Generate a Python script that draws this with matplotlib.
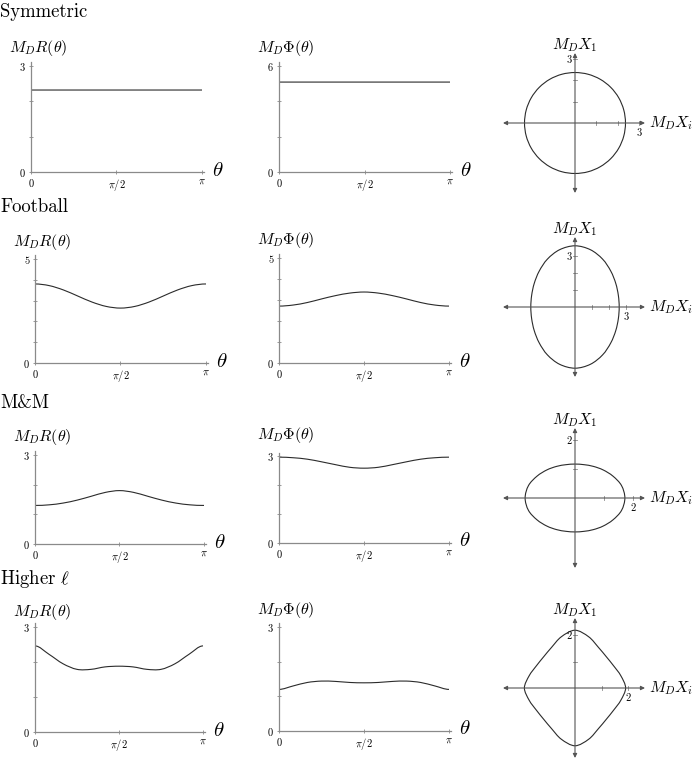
import numpy as np
import matplotlib
matplotlib.use('Agg')
import matplotlib.pyplot as plt
from matplotlib.path import Path
from matplotlib.patches import PathPatch

plt.rcParams['mathtext.fontset'] = 'cm'
plt.rcParams['font.family'] = ['DejaVu Serif']

# sample angles (degrees) for every curve
theta_deg = [0, 15, 30, 45, 60, 75, 90, 105, 120, 135, 150, 165, 180]

# M_D R(theta)
sym_R = [2.32, 2.32, 2.32, 2.32, 2.32, 2.32, 2.32, 2.32, 2.32, 2.32, 2.32, 2.32, 2.32]
football_R = [3.80, 3.72, 3.51, 3.22, 2.93, 2.72, 2.64, 2.72, 2.93, 3.22, 3.51, 3.72, 3.80]
mm_R = [1.30, 1.32, 1.38, 1.48, 1.61, 1.74, 1.80, 1.74, 1.61, 1.48, 1.38, 1.32, 1.30]
higher_R = [2.46, 2.22, 1.95, 1.79, 1.79, 1.86, 1.88, 1.86, 1.79, 1.79, 1.95, 2.22, 2.46]

# M_D Phi(theta)
sym_Phi = [5.09, 5.09, 5.09, 5.09, 5.09, 5.09, 5.09, 5.09, 5.09, 5.09, 5.09, 5.09, 5.09]
football_Phi = [2.71, 2.76, 2.88, 3.05, 3.21, 3.33, 3.38, 3.33, 3.21, 3.05, 2.88, 2.76, 2.71]
mm_Phi = [2.96, 2.94, 2.89, 2.80, 2.70, 2.61, 2.58, 2.61, 2.70, 2.80, 2.89, 2.94, 2.96]
higher_Phi = [1.20, 1.30, 1.40, 1.44, 1.43, 1.40, 1.39, 1.40, 1.43, 1.44, 1.40, 1.30, 1.20]

# cross-section radius in the (X_i, X_1) plane
sym_shape = [2.37, 2.37, 2.37, 2.37, 2.37, 2.37, 2.37, 2.37, 2.37, 2.37, 2.37, 2.37, 2.37]
football_shape = [3.60, 3.49, 3.25, 2.98, 2.77, 2.64, 2.60, 2.64, 2.77, 2.98, 3.25, 3.49, 3.60]
mm_shape = [1.17, 1.19, 1.26, 1.37, 1.51, 1.66, 1.72, 1.66, 1.51, 1.37, 1.26, 1.19, 1.17]
higher_shape = [2.18, 2.00, 1.77, 1.67, 1.68, 1.79, 1.91, 1.79, 1.68, 1.67, 1.77, 2.00, 2.18]

titles = ['Symmetric', 'Football', 'M&M', r'Higher $\ell$']
R_max = [3, 5, 3, 3]
Phi_max = [6, 5, 3, 3]
shape_max = [3, 3, 2, 2]

W, H = 698, 767
fig = plt.figure(figsize=(W / 100, H / 100), dpi=100)
theta = np.radians(theta_deg)
AX_C = '#8a8a8a'
LN_C = '#2b2b2b'


def ftext(x, y, s, **kw):
    fig.text(x / W, 1 - y / H, s, **kw)


def smooth_path(pts, closed=False):
    # Catmull-Rom through the points, drawn as cubic Bezier segments
    pts = np.asarray(pts, dtype=float)
    if closed:
        ext = np.vstack([pts[-1], pts, pts[0], pts[1]])
    else:
        p0 = np.array([2 * pts[0, 0] - pts[1, 0], pts[1, 1]])
        pn = np.array([2 * pts[-1, 0] - pts[-2, 0], pts[-2, 1]])
        ext = np.vstack([p0, pts, pn])
    verts = [ext[1]]
    codes = [Path.MOVETO]
    for k in range(1, len(ext) - 2):
        a, b, c, d = ext[k - 1], ext[k], ext[k + 1], ext[k + 2]
        verts += [b + (c - a) / 6, c - (d - b) / 6, c]
        codes += [Path.CURVE4] * 3
    return Path(verts, codes)


def line_panel(x0, y0, x1, ytop, ymax, vals, label, ly):
    w, h = x1 - x0, y0 - ytop
    ax = fig.add_axes([x0 / W, 1 - y0 / H, w * 1.012 / W, h * 1.04 / H])
    ax.set_xlim(0, np.pi * 1.012)
    ax.set_ylim(0, ymax * 1.04)
    ax.add_patch(PathPatch(smooth_path(np.column_stack([theta, vals])),
                           fill=False, ec=LN_C, lw=0.8))
    for sp in ['top', 'right']:
        ax.spines[sp].set_visible(False)
    for sp in ['left', 'bottom']:
        ax.spines[sp].set_color(AX_C)
        ax.spines[sp].set_linewidth(0.9)
    ax.patch.set_visible(False)
    ax.set_xticks([0, np.pi / 2, np.pi])
    ax.set_xticklabels(['$0$', r'$\pi/2$', r'$\pi$'])
    step = 2 if ymax == 6 else 1
    yt = list(range(0, ymax + 1, step))
    ax.set_yticks(yt)
    ax.set_yticklabels(['$0$'] + [''] * (len(yt) - 2) + ['$%d$' % ymax])
    ax.tick_params(direction='inout', length=3, width=0.6, color=AX_C,
                   labelsize=7.5, pad=2)
    ftext(x0 - 22, ly, label, fontsize=11.5, ha='left', va='center')
    ftext(x1 + 10, y0 - 2, r'$\theta$', fontsize=15, ha='left', va='center')


def shape_panel(cx, cy, s, radii, nmax):
    hw, hh = 110, 90
    ax = fig.add_axes([(cx - hw) / W, 1 - (cy + hh) / H, 2 * hw / W, 2 * hh / H])
    ax.set_xlim(-hw / s, hw / s)
    ax.set_ylim(-hh / s, hh / s)
    ax.axis('off')
    ap = dict(arrowstyle='<|-|>', lw=0.8, color='#555555', mutation_scale=6,
              shrinkA=0, shrinkB=0)
    ax.annotate('', xy=(70 / s, 0), xytext=(-72 / s, 0), arrowprops=ap)
    ax.annotate('', xy=(0, 70 / s), xytext=(0, -70 / s), arrowprops=ap)
    t = 1.6 / s
    for k in range(1, nmax + 1):
        ax.plot([k, k], [-t, t], color=AX_C, lw=0.6)
        ax.plot([-t, t], [k, k], color=AX_C, lw=0.6)
    ax.text(nmax, -3 / s, '$%d$' % nmax, fontsize=7.5, ha='center', va='top')
    ax.text(-2 / s, nmax, '$%d$' % nmax, fontsize=7.5, ha='right', va='center')
    r = np.array(radii)
    # right half (theta 0..pi) then mirrored left half, closed loop
    xr, yr = r * np.sin(theta), r * np.cos(theta)
    x = np.concatenate([xr, -xr[-2:0:-1]])
    y = np.concatenate([yr, yr[-2:0:-1]])
    ax.add_patch(PathPatch(smooth_path(np.column_stack([x, y]), closed=True),
                           fill=False, ec=LN_C, lw=0.8))
    ftext(cx, cy - 78, r'$M_D X_1$', fontsize=11.5, ha='center', va='center')
    ftext(cx + 74, cy, r'$M_D X_i$', fontsize=11.5, ha='left', va='center')


R_all = [sym_R, football_R, mm_R, higher_R]
Phi_all = [sym_Phi, football_Phi, mm_Phi, higher_Phi]
shape_all = [sym_shape, football_shape, mm_shape, higher_shape]

# pixel geometry of each row
title_base = [17, 212, 408, 584]
left_geo = [(31, 172, 202, 66, 48), (35, 363, 206, 259, 242),
            (35, 544, 204, 455, 437), (35, 732, 203, 627, 612)]
mid_geo = [(279, 172, 450, 66, 48), (279, 363, 449, 258, 240),
           (279, 543, 449, 456, 435), (279, 731, 449, 627, 610)]
shape_geo = [(575, 123, 21.3), (575, 307, 17.0), (575, 498, 29.0), (575, 688, 26.5)]

for i in range(4):
    ftext(0, title_base[i], titles[i], fontsize=13.5, family='cmr10',
          ha='left', va='baseline')
    x0, y0, x1, yt, ly = left_geo[i]
    line_panel(x0, y0, x1, yt, R_max[i], R_all[i], r'$M_D R(\theta)$', ly)
    x0, y0, x1, yt, ly = mid_geo[i]
    line_panel(x0, y0, x1, yt, Phi_max[i], Phi_all[i], r'$M_D \Phi(\theta)$', ly)
    cx, cy, s = shape_geo[i]
    shape_panel(cx, cy, s, shape_all[i], shape_max[i])

fig.savefig('out.png', dpi=100)
